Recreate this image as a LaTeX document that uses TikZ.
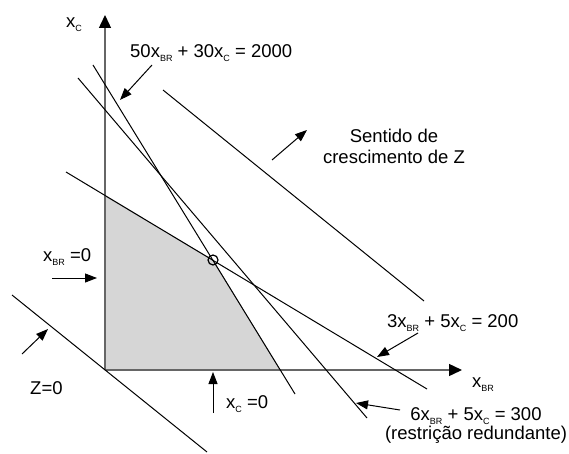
\documentclass[tikz,border=0pt]{standalone}
\usepackage{fontspec}
\setmainfont{Liberation Sans}
\usetikzlibrary{arrows.meta}

\newcommand\sbs[1]{\raisebox{-4pt}{\fontsize{9}{9}\selectfont #1}}

\tikzset{
  every node/.style={font=\fontsize{18.5}{20}\selectfont, inner sep=0pt},
  lbl/.style={anchor=base west},
  rline/.style={line width=1pt},
  pointer/.style={line width=1pt, -{Triangle[length=12pt,width=9pt]}},
  axis/.style={line width=1.4pt, draw=black!60, -{Triangle[length=13pt,width=12pt,color=black]}},
}

\begin{document}
\begin{tikzpicture}[x=1pt,y=-1pt]
   \useasboundingbox (0,0) rectangle (569,454);

   % feasible region
   \fill[black!16, draw=black!45, line width=0.6pt]
     (105,370) -- (105,196) -- (213,260) -- (280,370) -- cycle;

   % axes
   \coordinate (o) at (105,370);
   \draw[axis] (o) -- (105,15);
   \draw[axis] (o) -- (462,370);
   \node[lbl] (xc) at (66,28) {x\sbs{C}};
   \node[lbl] (xbr) at (472,387) {x\sbs{BR}};

   % restrictions and objective
   \draw[rline] (66,172) -- (427,389);
   \draw[rline] (93,65) -- (295,394);
   \draw[rline] (78,78) -- (367,418);
   \draw[rline] (163,90) -- (424,301);
   \draw[rline] (12,295) -- (207,452);

   \node[circle, draw, line width=1.2pt, minimum size=10pt] (opt) at (213,260) {};

   % labels (base of a two-line node is its last line)
   \node[lbl] (r1) at (130,58) {50x\sbs{BR} + 30x\sbs{C} = 2000};
   \node[lbl] (r2) at (387,327) {3x\sbs{BR} + 5x\sbs{C} = 200};
   \node[align=center, anchor=base] (r3) at (476,439) {6x\sbs{BR} + 5x\sbs{C} = 300\\[-1pt](restrição redundante)};
   \node[align=center, anchor=base] (dir) at (394,164) {Sentido de\\[1pt]crescimento de Z};
   \node[lbl] (nbr) at (43,261) {x\sbs{BR} =0};
   \node[lbl] (nc) at (226,408) {x\sbs{C} =0};
   \node[lbl] (z0) at (30,394) {Z=0};

   % pointers
   \coordinate (p1) at (152,65);   \coordinate (q1) at (120,100);
   \coordinate (p2) at (418,333);  \coordinate (q2) at (377,357);
   \coordinate (p3) at (400,410);  \coordinate (q3) at (356,403);
   \coordinate (p4) at (272,160);  \coordinate (q4) at (307,130);
   \coordinate (p5) at (52,278);   \coordinate (q5) at (97,278);
   \coordinate (p6) at (213,413);  \coordinate (q6) at (213,372);
   \coordinate (p7) at (22,354);   \coordinate (q7) at (48,329);
   \foreach \i in {1,...,7}
     \draw[pointer] (p\i) -- (q\i);
\end{tikzpicture}
\end{document}
